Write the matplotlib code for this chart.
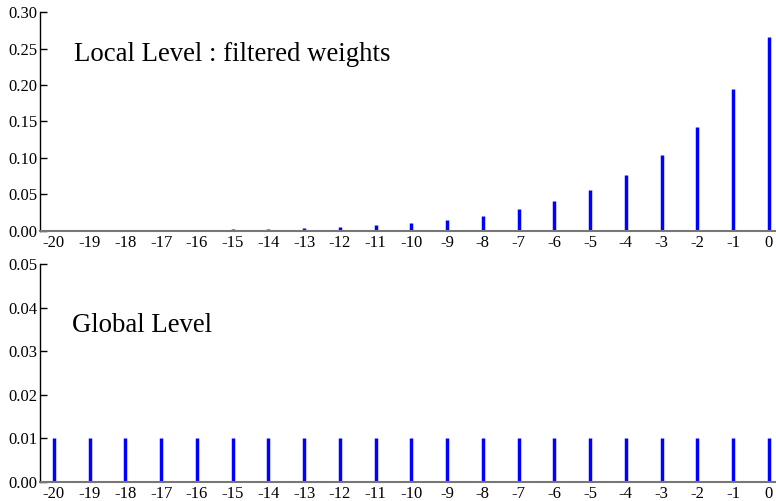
import matplotlib
matplotlib.use("Agg")
import matplotlib.pyplot as plt

plt.rcParams['font.family'] = ['Liberation Serif', 'DejaVu Serif']

lags = list(range(-20, 1))
# lag -20 .. 0
local_weights = [0.0005, 0.0007, 0.0009, 0.0012, 0.0017, 0.0023, 0.0031, 0.0043,
                 0.0059, 0.0080, 0.0110, 0.0151, 0.0207, 0.0295, 0.0410, 0.0561,
                 0.0770, 0.1045, 0.1430, 0.1950, 0.2660]
global_weights = [0.01] * 21

top_ticks = [0.0, 0.05, 0.10, 0.15, 0.20, 0.25, 0.30]
bottom_ticks = [0.0, 0.01, 0.02, 0.03, 0.04, 0.05]

fig = plt.figure(figsize=(7.76, 5.01), dpi=100)
ax1 = fig.add_axes([0.0515, 0.539, 0.9485, 0.437])
ax2 = fig.add_axes([0.0515, 0.038, 0.9485, 0.435])


def style(ax, yticks, ymax):
    ax.set_xlim(-20.39, 0.2)
    ax.set_ylim(0, ymax)
    ax.set_yticks(yticks)
    ax.set_yticklabels([f"{t:.2f}" for t in yticks])
    ax.set_xticks(lags)
    ax.set_xticklabels([str(l) for l in lags])
    for s in ['top', 'right']:
        ax.spines[s].set_visible(False)
    ax.spines['left'].set_linewidth(1.0)
    ax.spines['bottom'].set_color('#777777')
    ax.spines['bottom'].set_linewidth(1.5)
    ax.tick_params(axis='y', direction='in', length=5, width=1, pad=2, labelsize=12)
    ax.tick_params(axis='x', length=0, pad=3, labelsize=12)


ax1.vlines(lags, 0, local_weights, color='#0000ff', linewidth=2.5)
style(ax1, top_ticks, 0.30)
ax1.text(-19.45, 0.2325, "Local Level : filtered weights", fontsize=19.3)

ax2.vlines(lags, 0, global_weights, color='#0000ff', linewidth=2.5)
style(ax2, bottom_ticks, 0.05)
ax2.text(-19.5, (482 - 332) / 4360, "Global Level", fontsize=19.3)

fig.savefig("out.png", dpi=100)
